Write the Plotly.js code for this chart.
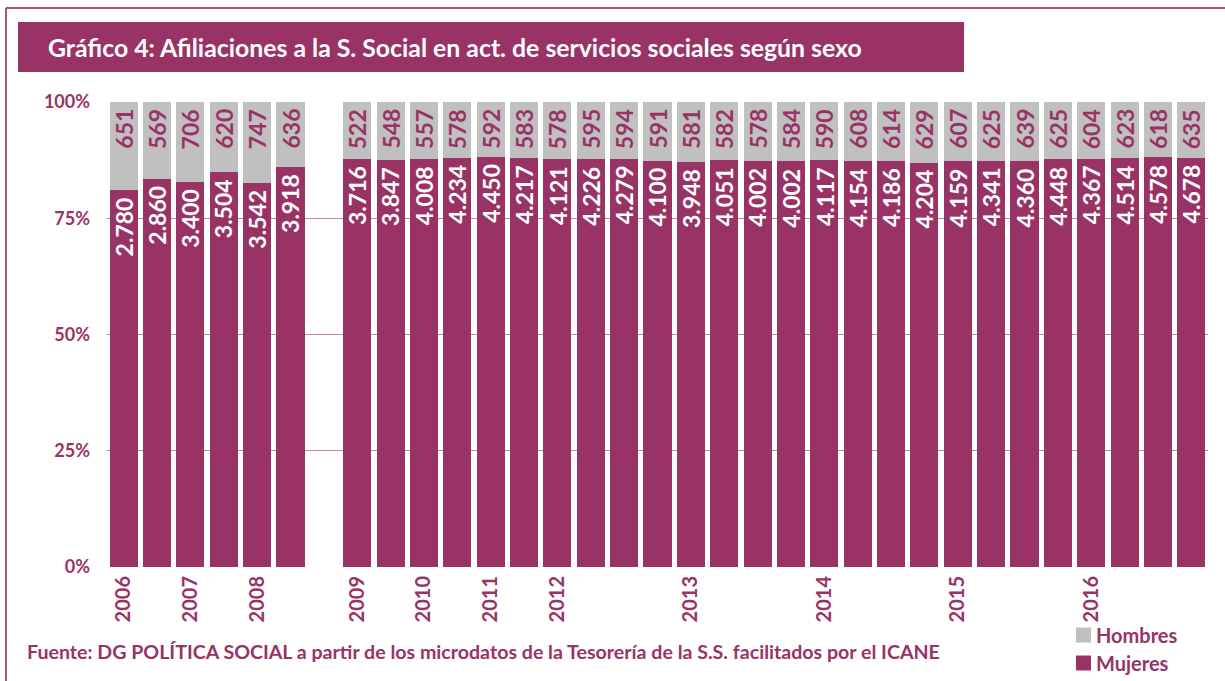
<!DOCTYPE html>
<html>
<head>
<meta charset="utf-8">
<script src="https://cdn.plot.ly/plotly-3.0.1.min.js"></script>
<style>
html,body{margin:0;padding:0;background:#fff;}
#chart{width:1225px;height:681px;}
</style>
</head>
<body>
<div id="chart"></div>
<script>
// ---- Data ----
var categories = ['2006-S1','2006-S2','2007-S1','2007-S2','2008-S1','2008-S2',' ',
  '2009-S1','2009-S2','2010-S1','2010-S2','2011-S1','2011-S2',
  '2012-T1','2012-T2','2012-T3','2012-T4',
  '2013-T1','2013-T2','2013-T3','2013-T4',
  '2014-T1','2014-T2','2014-T3','2014-T4',
  '2015-T1','2015-T2','2015-T3','2015-T4',
  '2016-T1','2016-T2','2016-T3','2016-T4'];
var mujeres = [2780,2860,3400,3504,3542,3918,null,
  3716,3847,4008,4234,4450,4217,
  4121,4226,4279,4100,
  3948,4051,4002,4002,
  4117,4154,4186,4204,
  4159,4341,4360,4448,
  4367,4514,4578,4678];
var hombres = [651,569,706,620,747,636,null,
  522,548,557,578,592,583,
  578,595,594,591,
  581,582,578,584,
  590,608,614,629,
  607,625,639,625,
  604,623,618,635];
var tickCategories = ['2006-S1','2007-S1','2008-S1','2009-S1','2010-S1','2011-S1','2012-T1','2013-T1','2014-T1','2015-T1','2016-T1'];
var tickLabels = ['2006','2007','2008','2009','2010','2011','2012','2013','2014','2015','2016'];
var seriesNames = ['Mujeres','Hombres'];
var titleText = 'Gráfico 4: Afiliaciones a la S. Social en act. de servicios sociales según sexo';
var sourceText = 'Fuente: DG POLÍTICA SOCIAL a partir de los microdatos de la Tesorería de la S.S. facilitados por el ICANE';

// ---- Styles ----
var PURPLE = '#993366';
var GRAY = '#C0C0C0';
var FONT = 'Lato, "Open Sans", sans-serif';

function fmt(v){
  return String(v).replace(/\B(?=(\d{3})+(?!\d))/g, '.');
}

var W = 1225, H = 681;
var M = {l:107, r:17, t:102, b:114};
var PW = W - M.l - M.r, PH = H - M.t - M.b;
function px(x){ return (x - M.l) / PW; }
function py(y){ return (H - M.b - y) / PH; }

var traces = [
  {
    type:'bar', name: seriesNames[0], x: categories, y: mujeres,
    marker:{color: PURPLE, line:{width:0}}, hoverinfo:'x+y', showlegend:false
  },
  {
    type:'bar', name: seriesNames[1], x: categories, y: hombres,
    marker:{color: GRAY, line:{width:0}}, hoverinfo:'x+y', showlegend:false
  }
];

var shapes = [
  // outer frame
  {type:'line', xref:'paper', yref:'paper', x0:px(6), x1:px(1225), y0:py(8), y1:py(8), line:{color:'#A8527F', width:2}},
  {type:'line', xref:'paper', yref:'paper', x0:px(6), x1:px(6), y0:py(8), y1:py(681), line:{color:'#A8527F', width:2}},
  // title box
  {type:'rect', xref:'paper', yref:'paper', x0:px(18), x1:px(964), y0:py(22), y1:py(72), fillcolor: PURPLE, line:{width:0}, layer:'below'}
];
var annotations = [
  {xref:'paper', yref:'paper', x:px(46), y:py(47), xanchor:'left', yanchor:'middle', showarrow:false,
   text: '<b>' + titleText + '</b>', font:{family: FONT, size:24.8, color:'#ffffff'}},
  {xref:'paper', yref:'paper', x:px(25), y:py(651), xanchor:'left', yanchor:'middle', showarrow:false,
   text: '<b>' + sourceText + '</b>', font:{family: FONT, size:19.6, color: PURPLE}}
];

// data labels (rotated, anchored at the top of each segment)
categories.forEach(function(c, i){
  var m = mujeres[i], h = hombres[i];
  if (m === null || h === null) return;
  var pm = m / (m + h) * 100;
  annotations.push({xref:'x', yref:'y', x:c, y:pm, xanchor:'center', yanchor:'top', yshift:-5,
    textangle:-90, showarrow:false, text:'<b>' + fmt(m) + '</b>',
    font:{family: FONT, size:23, color:'#ffffff'}});
  annotations.push({xref:'x', yref:'y', x:c, y:100, xanchor:'center', yanchor:'top', yshift:-5,
    textangle:-90, showarrow:false, text:'<b>' + fmt(h) + '</b>',
    font:{family: FONT, size:23, color: PURPLE}});
});

// manual legend (Hombres above Mujeres)
var legendItems = [
  {name: seriesNames[1], color: GRAY, cy: 635},
  {name: seriesNames[0], color: PURPLE, cy: 663}
];
legendItems.forEach(function(it){
  shapes.push({type:'rect', xref:'paper', yref:'paper', x0:px(1076), x1:px(1091), y0:py(it.cy-7.5), y1:py(it.cy+7.5),
    fillcolor: it.color, line:{width:0}});
  annotations.push({xref:'paper', yref:'paper', x:px(1094), y:py(it.cy), xanchor:'left', yanchor:'middle', showarrow:false,
    text:'<b>' + it.name + '</b>', font:{family: FONT, size:20, color: PURPLE}});
});

var layout = {
  width: W, height: H,
  margin: M,
  paper_bgcolor:'#ffffff', plot_bgcolor:'#ffffff',
  barmode:'stack', barnorm:'percent', bargap:0.16,
  showlegend:false,
  xaxis:{
    type:'category', categoryorder:'array', categoryarray: categories,
    range:[-0.5, categories.length - 0.5], automargin:false,
    tickmode:'array', tickvals: tickCategories, ticktext: tickLabels,
    tickangle:-90, ticks:'', showgrid:false, zeroline:false, showline:false,
    tickfont:{family: FONT, size:20, color: PURPLE, weight:'bold'},
    ticklabelstandoff: 4
  },
  yaxis:{
    range:[0,100], tickmode:'linear', tick0:0, dtick:25, ticksuffix:'%', automargin:false,
    showgrid:true, gridcolor:'#C584A5', gridwidth:1, zeroline:false, showline:false,
    ticks:'', ticklabelstandoff: 16,
    tickfont:{family: FONT, size:18, color: PURPLE, weight:'bold'}
  },
  shapes: shapes,
  annotations: annotations
};

Plotly.newPlot('chart', traces, layout, {displayModeBar:false, staticPlot:true});
</script>
</body>
</html>
